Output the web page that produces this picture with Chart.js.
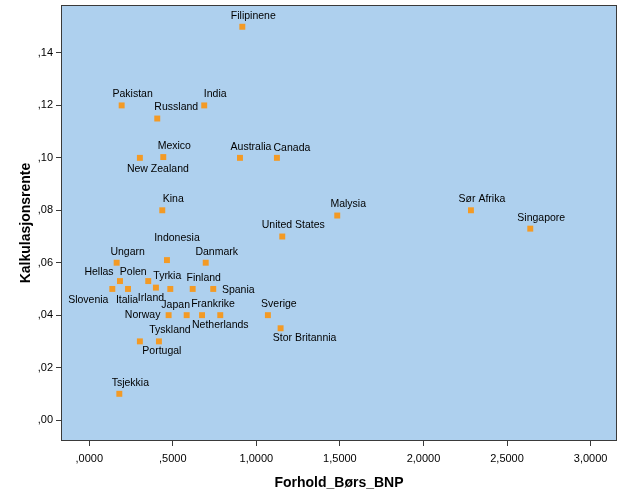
<!DOCTYPE html>
<html>
<head>
<meta charset="utf-8">
<script src="https://cdn.jsdelivr.net/npm/chart.js@4/dist/chart.umd.min.js"></script>
<style>
  html, body { margin: 0; padding: 0; background: #ffffff; }
  #wrap { width: 626px; height: 501px; }
</style>
</head>
<body>
<div id="wrap"><canvas id="scatter"></canvas></div>
<script>
// countries, Forhold_Børs_BNP (x) and Kalkulasjonsrente (y)
const countries = [
    'Filipinene', 'Pakistan', 'India', 'Russland', 'New Zealand', 'Mexico',
    'Australia', 'Canada', 'Kina', 'Malysia', 'United States', 'Sør Afrika',
    'Singapore', 'Indonesia', 'Ungarn', 'Danmark', 'Hellas', 'Polen',
    'Tyrkia', 'Finland', 'Spania', 'Slovenia', 'Italia', 'Irland',
    'Japan', 'Frankrike', 'Norway', 'Netherlands', 'Sverige',
    'Stor Britannia', 'Tyskland', 'Portugal', 'Tsjekkia'
];
const borsBnp = [
    0.916, 0.194, 0.688, 0.407, 0.303, 0.443,
    0.902, 1.123, 0.437, 1.484, 1.155, 2.284,
    2.639, 0.465, 0.164, 0.697, 0.184, 0.353,
    0.485, 0.619, 0.742, 0.138, 0.232, 0.399,
    0.583, 0.675, 0.475, 0.784, 1.069,
    1.145, 0.417, 0.303, 0.180
];
const rente = [
    0.150, 0.120, 0.120, 0.115, 0.100, 0.1003,
    0.100, 0.100, 0.080, 0.078, 0.070, 0.080,
    0.073, 0.061, 0.060, 0.060, 0.053, 0.053,
    0.050, 0.050, 0.050, 0.050, 0.050, 0.0505,
    0.040, 0.040, 0.040, 0.040, 0.040,
    0.035, 0.030, 0.030, 0.010
];

const xTicks = [0, 0.5, 1, 1.5, 2, 2.5, 3];
const xTickLabels = [',0000', ',5000', '1,0000', '1,5000', '2,0000', '2,5000', '3,0000'];
const yTicks = [0, 0.02, 0.04, 0.06, 0.08, 0.10, 0.12, 0.14];
const yTickLabels = [',00', ',02', ',04', ',06', ',08', ',10', ',12', ',14'];

// where each point label sits relative to its marker (px)
const labelOffset = {
    'Russland': [19, -11], 'New Zealand': [18, 11], 'Canada': [15, -10],
    'Indonesia': [10, -22], 'Hellas': [-21, -9], 'Polen': [-15, -9],
    'Tyrkia': [-3, -13], 'Spania': [25, 1], 'Slovenia': [-24, 11],
    'Italia': [-1, 11], 'Irland': [-5, 10], 'Japan': [-11, -10],
    'Norway': [-26, 0], 'Netherlands': [0, 10], 'Stor Britannia': [24, 10],
    'Portugal': [22, 10]
};

const FONT = '"Liberation Sans", Arial, sans-serif';

const plotBox = {
    id: 'plotBox',
    beforeDatasetsDraw(chart) {
        const a = chart.chartArea;
        const ctx = chart.ctx;
        ctx.save();
        ctx.fillStyle = '#aed0ee';
        ctx.fillRect(a.left, a.top, a.right - a.left, a.bottom - a.top);
        ctx.restore();
    },
    afterDatasetsDraw(chart) {
        const a = chart.chartArea;
        const ctx = chart.ctx;
        ctx.save();
        ctx.strokeStyle = '#3a3a3a';
        ctx.lineWidth = 1;
        ctx.strokeRect(a.left + 0.5, a.top + 0.5, a.right - a.left - 1, a.bottom - a.top - 1);

        // point labels
        const meta = chart.getDatasetMeta(0);
        ctx.fillStyle = '#000000';
        ctx.font = '10.5px ' + FONT;
        ctx.textAlign = 'center';
        ctx.textBaseline = 'middle';
        meta.data.forEach((pt, i) => {
            const off = labelOffset[countries[i]] || [11, -11];
            ctx.fillText(countries[i], pt.x + off[0], pt.y + off[1]);
        });
        ctx.restore();
    }
};

const data = countries.map((c, i) => ({ x: borsBnp[i], y: rente[i] }));

new Chart('scatter', {
    type: 'scatter',
    data: {
        datasets: [{
            label: 'Kalkulasjonsrente',
            data: data,
            pointStyle: 'rect',
            pointRadius: 4.2,
            pointHoverRadius: 4.2,
            borderWidth: 0,
            backgroundColor: '#f39a25',
            borderColor: '#f39a25'
        }]
    },
    options: {
        responsive: true,
        maintainAspectRatio: false,
        animation: false,
        layout: { padding: { top: 5, right: 9, left: 0, bottom: 0 } },
        plugins: {
            legend: { display: false },
            tooltip: { enabled: false }
        },
        scales: {
            x: {
                type: 'linear',
                min: -0.169,
                max: 3.158,
                afterBuildTicks: (s) => { s.ticks = xTicks.map(v => ({ value: v })); },
                afterFit: (s) => { s.height = 60; s.paddingLeft = 0; s.paddingRight = 0; },
                grid: { drawOnChartArea: false, drawTicks: true, tickLength: 5, color: '#3a3a3a' },
                border: { display: false },
                ticks: {
                    color: '#000000',
                    padding: 6,
                    maxRotation: 0,
                    autoSkip: false,
                    font: { family: FONT, size: 11 },
                    callback: (v) => xTickLabels[xTicks.indexOf(v)]
                },
                title: {
                    display: true,
                    text: 'Forhold_Børs_BNP',
                    color: '#000000',
                    padding: { top: 0, bottom: 9 },
                    font: { family: FONT, size: 14, weight: 'bold' }
                }
            },
            y: {
                type: 'linear',
                min: -0.0080,
                max: 0.1583,
                afterBuildTicks: (s) => { s.ticks = yTicks.map(v => ({ value: v })); },
                afterFit: (s) => { s.width = 61; s.paddingTop = 0; s.paddingBottom = 0; },
                grid: { drawOnChartArea: false, drawTicks: true, tickLength: 5, color: '#3a3a3a' },
                border: { display: false },
                ticks: {
                    color: '#000000',
                    padding: 3,
                    autoSkip: false,
                    font: { family: FONT, size: 11 },
                    callback: (v) => yTickLabels[yTicks.indexOf(v)]
                },
                title: {
                    display: true,
                    text: 'Kalkulasjonsrente',
                    color: '#000000',
                    padding: { top: 18, bottom: 0 },
                    font: { family: FONT, size: 14, weight: 'bold' }
                }
            }
        }
    },
    plugins: [plotBox]
});
</script>
</body>
</html>
